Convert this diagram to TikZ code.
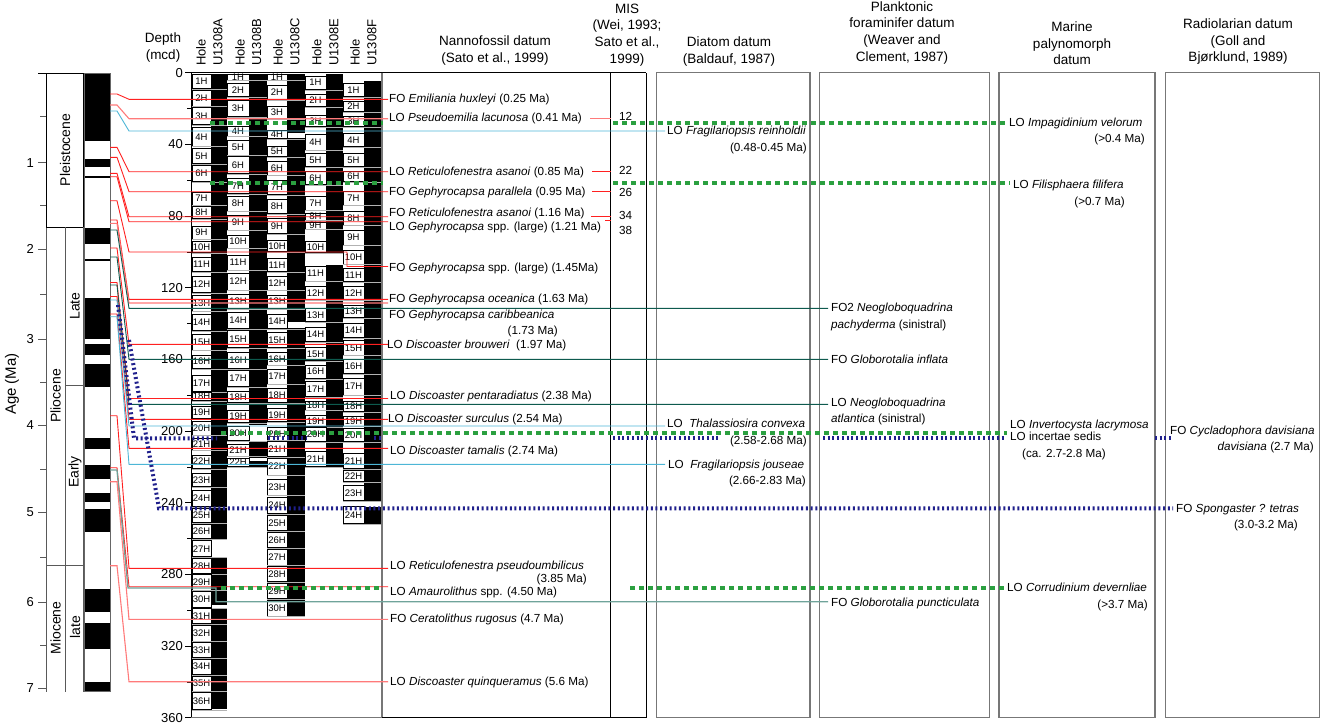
\documentclass[tikz,border=0pt]{standalone}
\usepackage{fontspec}
\setmainfont{Liberation Sans}

\definecolor{nannored}{HTML}{FF2020}
\definecolor{nannopink}{HTML}{FF7A7A}
\definecolor{diatomblue}{HTML}{4DB6D6}
\definecolor{foramteal}{HTML}{0E5A4E}
\definecolor{foramgrey}{HTML}{6FA39A}
\definecolor{palygreen}{HTML}{2BA040}
\definecolor{radionavy}{HTML}{20208C}
\definecolor{boxgrey}{HTML}{777777}

\newcommand{\datumfont}{\fontsize{11.7}{14}\selectfont}
\newcommand{\headfont}{\fontsize{13.5}{16.7}\selectfont}
\newcommand{\axisfont}{\fontsize{13}{15}\selectfont}
\newcommand{\corefont}{\fontsize{9.5}{10}\selectfont}
\newcommand{\epochfont}{\fontsize{14}{16}\selectfont}

% age point -> depth point -> datum column
\newcommand{\tieline}[4]{\draw[#1] (110,#2) -- (117,#2) -- (129,#3) -- (#4,#3);}

% one hole: box left, box right / black left, black right, cores, name
\newcommand{\holecol}[5]{%
  \foreach \t/\b/\n in {#4} {
    \draw[corebox] (#1,\t) rectangle (#2,\b);
    \draw[coregap] (#1,\b+0.9) -- (#3,\b+0.9);
    \node[corelab] (#5\n) at ({(#1+#2)/2},{(\t+\b)/2}) {\n H};
  }}

\tikzset{
  datum/.style={anchor=west, inner sep=0pt, font=\datumfont, text height=8.8pt, text depth=2.4pt},
  datumr/.style={datum, anchor=east},
  head/.style={align=center, inner sep=0pt, font=\headfont},
  holelab/.style={rotate=90, anchor=west, inner sep=0pt, font=\axisfont},
  epoch/.style={rotate=90, inner sep=0pt, font=\epochfont},
  agenum/.style={anchor=east, inner sep=0pt, font=\axisfont},
  axisgrey/.style={draw=black!65, line width=0.8pt},
  corebox/.style={draw=black, fill=white, line width=0.5pt},
  corelab/.style={inner sep=0pt, font=\corefont},
  coregap/.style={gray!60, line width=1pt},
  nanno/.style={nannored, line width=0.9pt},
  nannolt/.style={nannopink, line width=1.1pt},
  diatom/.style={diatomblue, line width=0.9pt},
  foram/.style={foramteal, line width=0.9pt},
  foramlt/.style={foramgrey, line width=1.3pt},
  palydot/.style={palygreen, line width=4pt, dash pattern=on 4.5pt off 4.5pt},
  radiodot/.style={radionavy, line width=4pt, dash pattern=on 2pt off 2.7pt},
  framegrey/.style={boxgrey, line width=1.3pt},
}

\begin{document}
\begin{tikzpicture}[x=1pt,y=-1pt]
\useasboundingbox (0,0) rectangle (1321,725);

% age axis
\node[rotate=90, inner sep=0pt, font=\fontsize{15}{17}\selectfont] (agetitle) at (12,384) {Age (Ma)};
\draw[thin] (38,73) -- (110,73);
\draw[axisgrey] (46,73) -- (46,691.7);
\foreach \yy/\lab in {162.7/1, 249/2, 339/3, 425/4, 512/5, 602/6, 688/7} {
  \draw[axisgrey] (38,\yy) -- (46,\yy);
  \node[agenum] (age\lab) at (34,\yy) {\lab};
}
\foreach \yy in {116, 205.7, 294, 382, 469, 557, 645}
  \draw[axisgrey] (40,\yy) -- (46,\yy);

% epochs
\draw[line width=0.8pt] (46,73) rectangle (83,227);
\draw[axisgrey] (65.7,227) -- (65.7,691.7);
\draw[axisgrey] (83,227) -- (83,691.7);
\draw[axisgrey] (65.7,385.5) -- (83,385.5);
\draw[axisgrey] (46,565) -- (83,565);
\node[epoch] (pleist) at (65,150) {Pleistocene};
\node[epoch] (plio) at (55.5,396) {Pliocene};
\node[epoch] (plate) at (75,306) {Late};
\node[epoch] (pearly) at (75,472) {Early};
\node[epoch] (mio) at (55.5,628) {Miocene};
\node[epoch] (mlate) at (75,627) {late};

% polarity
\foreach \t/\b in {73/141, 158.7/166.7, 175.7/178.3, 227.7/244.3, 259/261, 298.3/339.3,
    344.3/355.3, 364.3/386.7, 438.3/449, 465/479, 493.3/502.3, 509.3/532.3,
    589.3/611.7, 622.7/649, 681.7/691.7}
  \fill (84,\t) rectangle (110,\b);
\draw[black!60, line width=0.6pt] (84,73) rectangle (110,691.7);

% hole headers
\foreach \xh/\xu/\h in {201/218/A, 240/256.7/B, 278/295/C, 316.7/334/E, 355/372/F} {
  \node[holelab] (hole\h) at (\xh,66) {Hole};
  \node[holelab] (name\h) at (\xu,66) {U1308\h};
}
\node[head] (hdepth) at (163,47.5) {Depth\\(mcd)};

% black core columns
\foreach \xa/\xb/\t/\b in {211/227/74/539, 211/227/557/605, 211/227/608/709,
    249/267/74/425, 249/267/442/458, 249/267/461/467,
    287/305/74/133, 287/305/138/322, 287/305/328/616,
    326/343/74/253, 326/343/265/467,
    364/382/81/502, 364/382/507/524}
  \fill (\xa,\t) rectangle (\xb,\b);

% core boxes
\holecol{192}{211}{227}{74/88.3/1, 90/106/2, 107.3/124.3/3, 127.7/146/4, 148.3/163.3/5,
  165.7/181.7/6, 192/205/7, 206.7/218.3/8, 226/239/9, 241.7/252.7/10, 257/271.7/11,
  276/292.7/12, 295/311/13, 314/330.7/14, 334.3/350/15, 355/368.3/16, 375/391.7/17,
  392.7/400.7/18, 406.7/418.3/19, 421.7/435/20, 438.3/450/21, 455/468.3/22, 473/486.7/23,
  490/506.7/24, 508.3/522.7/25, 524/538.3/26, 540.7/556.7/27, 558.3/573.3/28,
  574.3/590/29, 591.7/607.7/30, 608.3/623.3/31, 625/641/32, 642.3/657.3/33,
  659/674.3/34, 676/691/35, 692.7/709.3/36}{A}
\holecol{227}{249}{267}{74/80/1, 83.3/96.7/2, 100.7/116.7/3, 126.7/136/4, 140/155/5,
  156.7/173.3/6, 178.3/193.3/7, 196/211/8, 215/230/9, 235/248/10, 255/270/11,
  273.3/290/12, 294.3/308.3/13, 312.7/328.3/14, 330.7/347.3/15, 352.7/368.3/16,
  370.7/386.7/17, 391.7/402.3/18, 410/422.7/19, 426/440.7/20, 444/456/21, 458.3/466.7/22}{B}
\holecol{267}{287}{305}{74/80/1, 85/100/2, 106/118.3/3, 130/138.3/4, 146.7/156.7/5,
  161.7/175/6, 180/194.3/7, 199.3/213.3/8, 218.3/233.3/9, 240/251.7/10, 258.3/271.7/11,
  276/290/12, 295/308.3/13, 314/328.3/14, 332.7/347.3/15, 352.7/365/16, 369.3/384/17,
  388.3/402.7/18, 408.3/421.7/19, 427.7/440/20, 441.7/456.7/21, 458.3/475/22,
  479.3/495/23, 497.3/513.3/24, 515/530.7/25, 532.3/547.7/26, 549.3/565/27,
  566.7/581.7/28, 583.3/598.3/29, 600/616/30}{C}
\holecol{305}{326}{343}{76/89.3/1, 94.3/106.7/2, 115/126.7/3, 134/150/4, 153.3/166.7/5,
  171.7/184.3/6, 196/210/7, 213.3/220/8, 222/229/9, 241.7/252.7/10, 266/281/11,
  286.7/300/12, 308.3/321.7/13, 327.3/341.7/14, 347.3/360.7/15, 365/378.3/16,
  381.7/396.7/17, 401/410/18, 415/426.7/19, 427.3/441.7/20, 451.7/466.7/21}{E}
\holecol{343}{364}{382}{83.3/96.7/1, 101/111.7/2, 116/126.7/3, 133.3/146.7/4,
  153.3/166.7/5, 171.7/181.7/6, 191.7/205/7, 211/225/8, 230/245/9, 250/264/10,
  268.3/281.7/11, 286.7/300/12, 305/317.7/13, 323.3/337.3/14, 340.7/355/15,
  359.3/373.3/16, 378.3/395/17, 401.7/411.7/18, 416/426/19, 428.3/441.7/20,
  453.3/468.3/21, 470/481.7/22, 485/500.7/23, 506.7/523.3/24}{F}

% depth axis
\draw[line width=0.8pt] (191,72.7) -- (191,717.3);
\foreach \d in {0,20,...,360}
  \draw[line width=0.8pt] (187,{72.7+1.792*\d}) -- (191,{72.7+1.792*\d});
\foreach \d in {0,40,...,360} {
  \draw[line width=0.8pt] (185,{72.7+1.792*\d}) -- (191,{72.7+1.792*\d});
  \node[agenum] (d\d) at (183,{72.7+1.792*\d}) {\d};
}

% frames
\draw[line width=0.8pt] (191,72.7) -- (646,72.7);
\draw[framegrey] (382,72.7) -- (382,717.3);
\draw[framegrey] (191,717.3) -- (382,717.3);
\draw[line width=0.8pt] (382,717.3) -- (646,717.3) -- (646,72.7);
\draw[line width=0.8pt] (610,72.7) -- (610,717.3);
\draw[framegrey] (656.7,72.7) rectangle (810,717.3);
\draw[framegrey] (819.3,72.7) rectangle (989.3,717.3);
\draw[framegrey] (999,72.7) rectangle (1155,717.3);
\draw[framegrey] (1165.7,72.7) rectangle (1319.5,717.3);

% nannofossil, diatom and foram ties
\tieline{nanno}{94}{99.3}{388}
\tieline{nannolt}{105}{118.7}{388}
\tieline{diatom}{111}{131}{665}
\tieline{nanno}{147.3}{171.7}{388}
\tieline{nanno}{157.3}{191.7}{388}
\tieline{nanno}{173.3}{216.7}{388}
\tieline{nanno}{176.7}{221.7}{388}
\draw[nanno] (110,200.7) -- (117,200.7) -- (129,252) -- (347,252) -- (347,266.5) -- (388,266.5);
\tieline{nanno}{220}{299.3}{388}
\tieline{nannolt}{223.3}{303}{388}
\tieline{foram}{230}{308.3}{828}
\tieline{nanno}{248}{344.3}{388}
\tieline{foram}{257}{359.3}{828}
\tieline{nanno}{282.5}{398.5}{388}
\tieline{foram}{285}{404.3}{828}
\tieline{nanno}{296.5}{419.3}{388}
\tieline{diatom}{300}{426}{665}
\tieline{nanno}{314}{448.3}{388}
\tieline{diatom}{316.7}{464.3}{665}
\tieline{nanno}{415.7}{568.3}{388}
\tieline{nanno}{467.7}{586.7}{388}
\draw[foramlt] (110,470) -- (117,470) -- (128,588) -- (216,588) -- (216,601.7) -- (828,601.7);
\tieline{nannolt}{481.7}{619.3}{388}
\tieline{nannolt}{565.7}{681.7}{388}

% MIS ties
\draw[nannolt] (590,118.3) -- (611,118.3);
\draw[nanno] (592,171.7) -- (611,171.7);
\draw[nanno] (592,191.7) -- (611,191.7);
\draw[nanno] (591,216.7) -- (611,216.7);
\draw[nanno] (605,220.5) -- (611,220.5);

% palynomorph levels
\draw[palydot] (210,123.3) -- (383,123.3);
\draw[palydot] (613,123.3) -- (1007,123.3);
\draw[palydot] (210,183.3) -- (383,183.3);
\draw[palydot] (613,183.3) -- (1010,183.3);
\draw[palydot] (221,432.7) -- (1007,432.7);
\draw[palydot] (221,587.5) -- (383,587.5);
\draw[palydot] (630,587.5) -- (1005,587.5);

% radiolarian levels
\draw[radiodot] (118,305) -- (134,438.3) -- (217,438.3);
\draw[radiodot] (268,438.3) -- (306,438.3);
\draw[radiodot] (374,438.3) -- (383,438.3);
\draw[radiodot] (613,438.3) -- (718,438.3);
\draw[radiodot] (823,438.3) -- (1005,438.3);
\draw[radiodot] (1155,438.3) -- (1173,438.3);
\draw[radiodot] (129,340) -- (159,508.3) -- (1173,508.3);

% nannofossil datums
\node[datum] (nn1) at (389,99.3) {FO \textit{Emiliania huxleyi} (0.25 Ma)};
\node[datum] (nn2) at (389,118.7) {LO \textit{Pseudoemilia lacunosa} (0.41 Ma)};
\node[datum] (nn3) at (389,172) {LO \textit{Reticulofenestra asanoi} (0.85 Ma)};
\node[datum] (nn4) at (389,192) {FO \textit{Gephyrocapsa parallela} (0.95 Ma)};
\node[datum] (nn5) at (389,213.3) {FO \textit{Reticulofenestra asanoi} (1.16 Ma)};
\node[datum] (nn6) at (389,227.3) {LO \textit{Gephyrocapsa} spp. (large) (1.21 Ma)};
\node[datum] (nn7) at (389,268) {FO \textit{Gephyrocapsa} spp. (large) (1.45Ma)};
\node[datum] (nn8) at (389,299.3) {FO \textit{Gephyrocapsa oceanica} (1.63 Ma)};
\node[datum] (nn9) at (389,315.7) {FO \textit{Gephyrocapsa caribbeanica}};
\node[datumr] (nn9b) at (558,331) {(1.73 Ma)};
\node[datum] (nn10) at (387,345) {LO \textit{Discoaster brouweri}\ \ (1.97 Ma)};
\node[datum] (nn11) at (390,396.7) {LO \textit{Discoaster pentaradiatus} (2.38 Ma)};
\node[datum] (nn12) at (388,419) {LO \textit{Discoaster surculus} (2.54 Ma)};
\node[datum] (nn13) at (390,451) {LO \textit{Discoaster tamalis} (2.74 Ma)};
\node[datum] (nn14) at (390,566) {LO \textit{Reticulofenestra pseudoumbilicus}};
\node[datumr] (nn14b) at (587,579) {(3.85 Ma)};
\node[datum] (nn15) at (390,592.7) {LO \textit{Amaurolithus} spp. (4.50 Ma)};
\node[datum] (nn16) at (390,619.3) {FO \textit{Ceratolithus rugosus} (4.7 Ma)};
\node[datum] (nn17) at (390,682.3) {LO \textit{Discoaster quinqueramus} (5.6 Ma)};

% MIS
\node[datum] (mis12) at (619,117) {12};
\node[datum] (mis22) at (619,171) {22};
\node[datum] (mis26) at (619,193.3) {26};
\node[datum] (mis34) at (619,216.7) {34};
\node[datum] (mis38) at (619,231.7) {38};

% diatom datums
\node[datum] (dt1) at (667,131) {LO \textit{Fragilariopsis reinholdii}};
\node[datumr] (dt1b) at (807,148) {(0.48-0.45 Ma)};
\node[datum] (dt2) at (667,424.5) {LO\ \ \textit{Thalassiosira convexa}};
\node[datumr] (dt2b) at (807,441) {(2.58-2.68 Ma)};
\node[datum] (dt3) at (668,465.5) {LO\ \ \textit{Fragilariopsis jouseae}};
\node[datumr] (dt3b) at (806,481.7) {(2.66-2.83 Ma)};

% planktonic foraminifer datums
\node[datum] (pf1) at (831,308.3) {FO2 \textit{Neogloboquadrina}};
\node[datum] (pf1b) at (831,325) {\textit{pachyderma} (sinistral)};
\node[datum] (pf2) at (831,360) {FO \textit{Globorotalia inflata}};
\node[datum] (pf3) at (831,403.7) {LO \textit{Neogloboquadrina}};
\node[datum] (pf3b) at (831,419.3) {\textit{atlantica} (sinistral)};
\node[datum] (pf4) at (831,603.7) {FO \textit{Globorotalia puncticulata}};

% marine palynomorph datums
\node[datum] (mp1) at (1009,123.3) {LO \textit{Impagidinium velorum}};
\node[datumr] (mp1b) at (1145,139.3) {(>0.4 Ma)};
\node[datum] (mp2) at (1013,185) {LO \textit{Filisphaera filifera}};
\node[datumr] (mp2b) at (1125,202) {(>0.7 Ma)};
\node[datum] (mp3) at (1010,425) {LO \textit{Invertocysta lacrymosa}};
\node[datum] (mp3b) at (1010,437.3) {LO incertae sedis};
\node[datum] (mp3c) at (1022,454.3) {(ca. 2.7-2.8 Ma)};
\node[datum] (mp4) at (1007,588) {LO \textit{Corrudinium devernliae}};
\node[datumr] (mp4b) at (1148,605) {(>3.7 Ma)};

% radiolarian datums
\node[datum] (rd1) at (1170,431) {FO \textit{Cycladophora davisiana}};
\node[datumr] (rd1b) at (1314,447.7) {\textit{davisiana} (2.7 Ma)};
\node[datum] (rd2) at (1176,509) {FO \textit{Spongaster ? tetras}};
\node[datumr] (rd2b) at (1298,525) {(3.0-3.2 Ma)};

% column headers
\node[head] (hnanno) at (495,50.7) {Nannofossil datum\\(Sato et al., 1999)};
\node[head] (hmis) at (627,35) {MIS\\(Wei, 1993;\\Sato et al.,\\1999)};
\node[head] (hdiat) at (729,51.7) {Diatom datum\\(Baldauf, 1987)};
\node[head] (hforam) at (902,32.7) {Planktonic\\foraminifer datum\\(Weaver and\\Clement, 1987)};
\node[head] (hpaly) at (1072,43.3) {Marine\\palynomorph\\datum};
\node[head] (hradio) at (1238,41.7) {Radiolarian datum\\(Goll and\\Bjørklund, 1989)};

\end{tikzpicture}
\end{document}
